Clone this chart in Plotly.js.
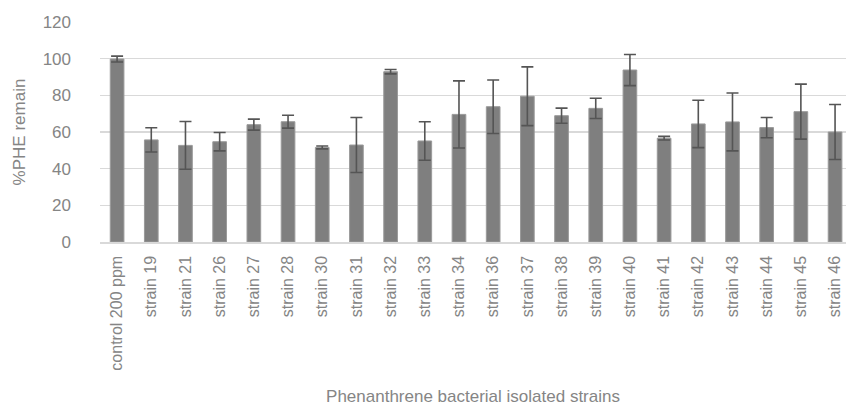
<!DOCTYPE html>
<html><head><meta charset="utf-8">
<script src="https://cdn.plot.ly/plotly-3.0.1.min.js"></script>
<style>html,body{margin:0;padding:0;background:#fff;overflow:hidden}</style>
</head><body><div id="chart" style="width:846px;height:408px"></div>
<script>
const categories = ["control 200 ppm","strain 19","strain 21","strain 26","strain 27","strain 28","strain 30","strain 31","strain 32","strain 33","strain 34","strain 36","strain 37","strain 38","strain 39","strain 40","strain 41","strain 42","strain 43","strain 44","strain 45","strain 46"];
const values = [99.8,55.7,52.7,54.7,64.0,65.6,51.6,52.9,92.9,55.1,69.6,73.8,79.5,68.9,72.9,93.8,56.6,64.4,65.5,62.4,71.1,60.0];
const errors = [1.6,6.6,13.0,5.0,3.0,3.5,0.8,15.0,1.2,10.5,18.3,14.6,16.0,4.1,5.5,8.5,1.0,12.9,15.8,5.5,15.0,15.0];
const yTicks = [0,20,40,60,80,100,120];

const FONT = "Liberation Sans, Arial, sans-serif";
const trace = {
  type: "bar", x: categories, y: values, width: 0.4,
  marker: {color: "#7f7f7f", line: {color: "#9a9a9a", width: 1}},
  error_y: {type: "data", array: errors, visible: true, color: "#555555", thickness: 1.6, width: 6},
  hoverinfo: "none"
};
const layout = {
  width: 846, height: 408,
  margin: {l: 100, r: 0, t: 22, b: 166},
  paper_bgcolor: "#fff", plot_bgcolor: "#fff",
  showlegend: false, bargap: 0.6,
  font: {family: FONT, color: "#858585"},
  xaxis: {
    type: "category", range: [-0.5, 21.32], tickangle: -90,
    tickfont: {size: 16, color: "#858585", family: FONT},
    showgrid: false, showline: true, linecolor: "#d9d9d9", linewidth: 1.5,
    ticks: "", ticklabelstandoff: 6,
    title: {text: "Phenanthrene bacterial isolated strains", font: {size: 17, color: "#858585", family: FONT}, standoff: 20}
  },
  yaxis: {
    range: [0, 120], tickvals: yTicks, ticktext: yTicks.map(String),
    tickfont: {size: 17, color: "#858585", family: FONT},
    showgrid: true, gridcolor: "#d9d9d9", gridwidth: 1.5, zeroline: false,
    ticks: "", ticklabelstandoff: 28, showline: false,
    title: {text: "%PHE remain", font: {size: 17, color: "#858585", family: FONT}, standoff: 12}
  }
};
Plotly.newPlot("chart", [trace], layout, {displayModeBar: false, staticPlot: true});
</script></body></html>
